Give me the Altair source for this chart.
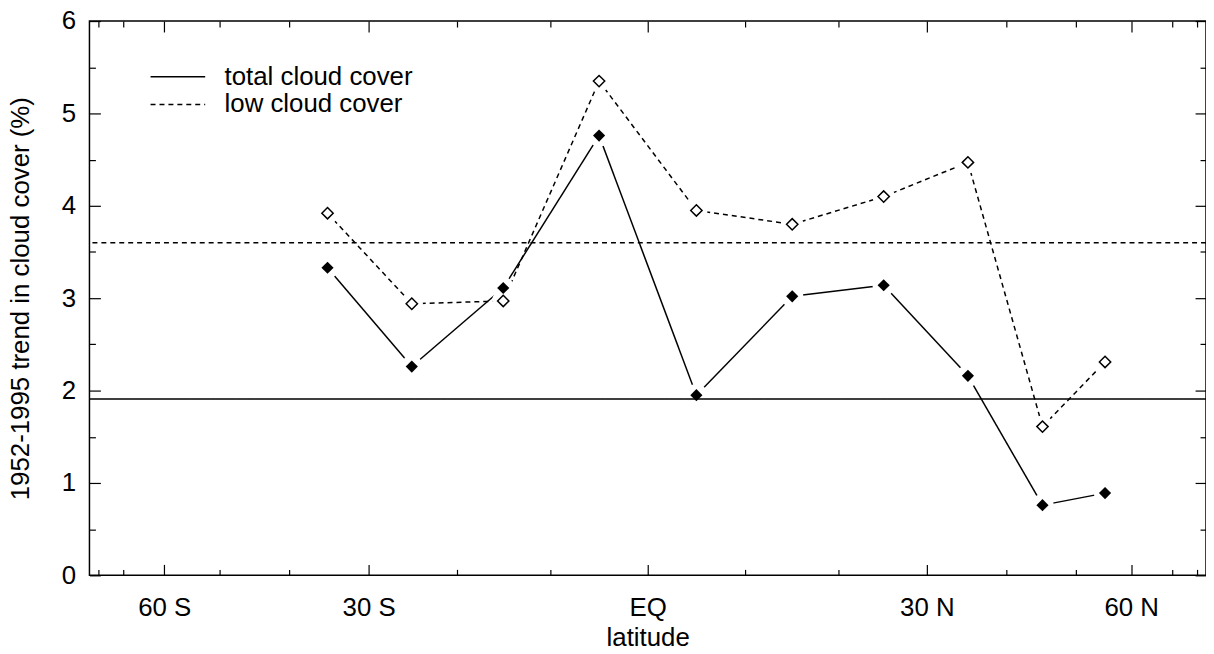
import math
import altair as alt
import pandas as pd

# ---- data ----
lat = [-35, -25, -15, -5, 5, 15, 25, 35, 45, 55]
total_cover = [3.33, 2.26, 3.11, 4.76, 1.95, 3.02, 3.14, 2.16, 0.76, 0.89]
low_cover = [3.92, 2.94, 2.97, 5.35, 3.95, 3.80, 4.10, 4.47, 1.61, 2.31]
series_names = ["total cloud cover", "low cloud cover"]
mean_values = [1.91, 3.60]

major_lat = [-60, -30, 0, 30, 60]
minor_lat = [-80, -70, -50, -40, -20, -10, 10, 20, 40, 50, 70, 80]
y_major = [0, 1, 2, 3, 4, 5, 6]
y_minor = [0.5, 1.5, 2.5, 3.5, 4.5, 5.5]

FONT = "Liberation Sans"
FS = 26
DOTTED = [5, 4]

rows = []
for la, t, lo in zip(lat, total_cover, low_cover):
    rows.append({"lat": la, "value": t, "series": series_names[0]})
    rows.append({"lat": la, "value": lo, "series": series_names[1]})
df = pd.DataFrame(rows)

# consecutive point pairs, one line segment each
segs = []
for name, vals in zip(series_names, [total_cover, low_cover]):
    for i in range(len(lat) - 1):
        segs.append({"series": name, "lat": lat[i], "value": vals[i],
                     "lat2": lat[i + 1], "value2": vals[i + 1]})
seg_df = pd.DataFrame(segs)
means = pd.DataFrame({"series": series_names, "m": mean_values})

x_major_vals = [math.sin(math.radians(v)) for v in major_lat]
x_minor_vals = [math.sin(math.radians(v)) for v in minor_lat]

MAJ = 11
MIN = 6

lab_expr = ("abs(round(asin(datum.value)*180/PI)) == 0 ? 'EQ' : "
            "abs(round(asin(datum.value)*180/PI)) + (datum.value < 0 ? ' S' : ' N')")


def axis(orient, values, size, labels=False, **kw):
    return alt.Axis(orient=orient, values=values, tickSize=size, offset=-size,
                    domain=False, grid=False, labels=labels, ticks=True,
                    tickColor="black", tickWidth=1.2, **kw)


xscale = alt.Scale(domain=[-1, 1], nice=False, zero=False)
yscale = alt.Scale(domain=[0, 6], nice=False, zero=True)

base = alt.Chart(df).transform_calculate(s="sin(datum.lat*PI/180)")
total_base = base.transform_filter(alt.datum.series == series_names[0])
low_base = base.transform_filter(alt.datum.series == series_names[1])

seg_base = alt.Chart(seg_df).transform_calculate(
    s="sin(datum.lat*PI/180)", s2="sin(datum.lat2*PI/180)")

seg_total = seg_base.transform_filter(alt.datum.series == series_names[0]).mark_rule(
    color="black", strokeWidth=1.5).encode(
    x=alt.X("s:Q", scale=xscale, title="latitude",
            axis=axis("bottom", x_major_vals, MAJ, labels=True, labelExpr=lab_expr,
                      labelPadding=19, titlePadding=5)),
    x2="s2:Q",
    y=alt.Y("value:Q", scale=yscale, title="1952-1995 trend in cloud cover (%)",
            axis=axis("left", y_major, MAJ, labels=True, labelPadding=14,
                      titlePadding=28)),
    y2="value2:Q",
)

seg_low = seg_base.transform_filter(alt.datum.series == series_names[1]).mark_rule(
    color="black", strokeWidth=1.5, strokeDash=DOTTED).encode(
    x=alt.X("s:Q", scale=xscale, title=None, axis=None),
    x2="s2:Q",
    y=alt.Y("value:Q", scale=yscale, title=None, axis=None),
    y2="value2:Q",
)

halos = base.mark_circle(size=500, color="white", opacity=1).encode(
    x=alt.X("s:Q", scale=xscale, title=None, axis=axis("bottom", x_minor_vals, MIN)),
    y=alt.Y("value:Q", scale=yscale, title=None, axis=axis("left", y_minor, MIN)),
)

rules = alt.Chart(means).mark_rule(color="black", strokeWidth=1.5).encode(
    y=alt.Y("m:Q", scale=yscale, axis=None),
    strokeDash=alt.StrokeDash(
        "series:N", sort=series_names,
        scale=alt.Scale(domain=series_names, range=[[1, 0], DOTTED]),
        legend=alt.Legend(orient="none", legendX=76, legendY=43, title=None,
                          symbolType="M-2.5,0H2.5", symbolSize=484,
                          symbolStrokeColor="black", symbolStrokeWidth=1.5,
                          labelFont=FONT, labelFontSize=FS, labelColor="black",
                          labelLimit=1000,
                          labelOffset=34, rowPadding=2, padding=0)),
)

pts_total = total_base.mark_point(
    shape="diamond", filled=True, size=150, color="black", opacity=1).encode(
    x=alt.X("s:Q", scale=xscale, title=None, axis=axis("top", x_major_vals, MAJ)),
    y=alt.Y("value:Q", scale=yscale, title=None, axis=axis("right", y_major, MAJ)),
)

pts_low = low_base.mark_point(
    shape="diamond", filled=True, size=130, fill="white", stroke="black",
    strokeWidth=1.5, opacity=1).encode(
    x=alt.X("s:Q", scale=xscale, title=None, axis=axis("top", x_minor_vals, MIN)),
    y=alt.Y("value:Q", scale=yscale, title=None, axis=axis("right", y_minor, MIN)),
)

chart = alt.layer(seg_total, seg_low, halos, rules, pts_total, pts_low).resolve_axis(
    x="independent", y="independent"
).properties(
    width=1124, height=558,
    autosize=alt.AutoSizeParams(type="none"),
    padding={"left": 82, "top": 11, "right": 0, "bottom": 70},
    background="white",
).configure_view(
    stroke="black", strokeWidth=1.5
).configure_axis(
    labelFont=FONT, labelFontSize=FS, labelColor="black",
    titleFont=FONT, titleFontSize=FS, titleColor="black", titleFontWeight="normal",
)

chart.save("out.html", embed_options={"renderer": "svg", "actions": False})
